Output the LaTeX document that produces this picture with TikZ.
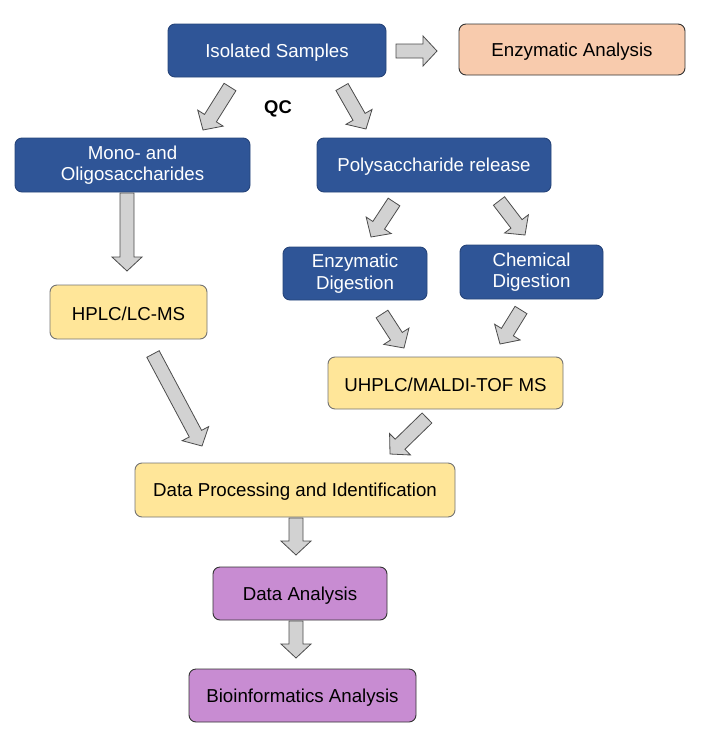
\documentclass[tikz,border=0pt]{standalone}
\usepackage{fontspec}
\setmainfont{Liberation Sans}
\usetikzlibrary{calc}
\definecolor{boxblue}{RGB}{47,85,151}
\definecolor{boxyellow}{RGB}{255,230,153}
\definecolor{boxpeach}{RGB}{248,203,173}
\definecolor{boxpurple}{RGB}{200,140,210}
\definecolor{arrowgray}{RGB}{210,210,210}
\newcommand{\blockarrow}[2]{
  \path ($(#2)!14pt!(#1)$) coordinate (h);
  \draw[arrowbody] ($(#1)!7pt!90:(#2)$) -- ($(h)!7pt!-90:(#1)$) -- ($(h)!15pt!-90:(#1)$)
    -- (#2) -- ($(h)!15pt!90:(#1)$) -- ($(h)!7pt!90:(#1)$) -- ($(#1)!7pt!-90:(#2)$) -- cycle;}

\begin{document}
\begin{tikzpicture}[x=1pt,y=-1pt,font=\fontsize{18.7}{21.5}\selectfont,
  box/.style={rectangle,rounded corners=7pt,line width=0.9pt,inner sep=0pt,align=center,minimum height=53pt,
    execute at begin node={\rule{0pt}{17.5pt}}},
  bluebox/.style={box,fill=boxblue,draw=boxblue!80!black,text=white},
  yellowbox/.style={box,fill=boxyellow,draw=black!55},
  peachbox/.style={box,fill=boxpeach,draw=black!80},
  purplebox/.style={box,fill=boxpurple,draw=black!80},
  arrowbody/.style={fill=arrowgray,draw=black!70,line width=0.8pt,line join=miter}]
\useasboundingbox (0,0) rectangle (714,742);
% boxes
\node[bluebox,minimum width=218pt] (iso) at (277,50.5) {Isolated Samples};
\node[peachbox,minimum width=226pt,minimum height=51pt] (enza) at (572,49.5) {Enzymatic Analysis};
\node[bluebox,minimum width=235pt,minimum height=54pt] (mono) at (132.5,165) {Mono- and\\Oligosaccharides};
\node[bluebox,minimum width=234pt,minimum height=54pt] (poly) at (434,165) {Polysaccharide release};
\node[bluebox,minimum width=144pt] (enzd) at (355,273.5) {Enzymatic\\Digestion};
\node[bluebox,minimum width=143pt,minimum height=54pt] (chemd) at (531.5,272) {Chemical\\Digestion};
\node[yellowbox,minimum width=157pt,minimum height=54pt] (hplc) at (128.5,312) {HPLC/LC-MS};
\node[yellowbox,minimum width=235pt,minimum height=52pt] (uh) at (445.5,383) {UHPLC/MALDI-TOF MS};
\node[yellowbox,minimum width=320pt,minimum height=54pt] (dpi) at (295,490) {Data Processing and Identification};
\node[purplebox,minimum width=174pt] (da) at (300,593.5) {Data Analysis};
\node[purplebox,minimum width=227pt] (bio) at (302.5,695.5) {Bioinformatics Analysis};
\node[font=\fontsize{18.4}{21}\selectfont\bfseries] (qc) at (278,109) {QC};
% arrow ends
\coordinate (a1) at (396,51);  \coordinate (b1) at (437,51);
\coordinate (a2) at (230,87);  \coordinate (b2) at (203,130);
\coordinate (a3) at (342,87);  \coordinate (b3) at (366,129);
\coordinate (a4) at (127,193); \coordinate (b4) at (127,271);
\coordinate (a5) at (153,354); \coordinate (b5) at (202,446);
\coordinate (a6) at (394,202); \coordinate (b6) at (371,237);
\coordinate (a7) at (499,201); \coordinate (b7) at (525,235);
\coordinate (a8) at (382,314); \coordinate (b8) at (404,348);
\coordinate (a9) at (521,310); \coordinate (b9) at (500,344);
\coordinate (a10) at (427,418); \coordinate (b10) at (390,454);
\coordinate (a11) at (296,518); \coordinate (b11) at (296,555);
\coordinate (a12) at (296,621); \coordinate (b12) at (296,658);
\foreach \i in {1,...,12}{\blockarrow{a\i}{b\i}}
\end{tikzpicture}
\end{document}
